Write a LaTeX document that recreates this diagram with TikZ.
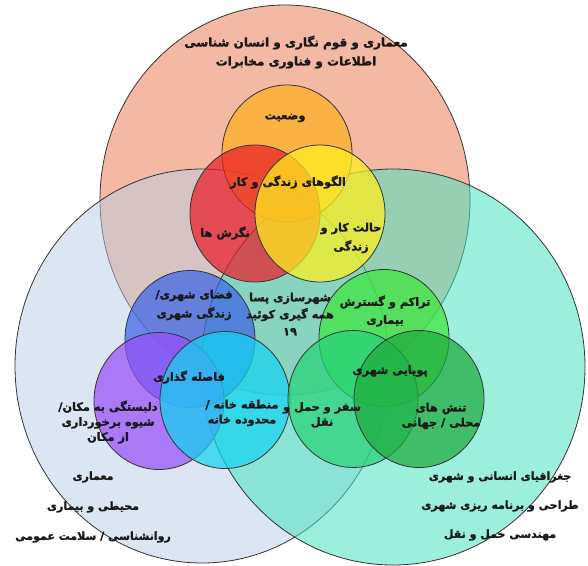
\documentclass[tikz,border=0pt]{standalone}
\usepackage{fontspec}
\usepackage{xcolor}
\usepackage{tikz}
\usetikzlibrary{positioning}
\TeXXeTstate=1
\newfontfamily\farsi[Script=Arabic, FakeBold=1.5]{DejaVu Sans Bold}
\newcommand{\fa}[1]{\beginR #1\endR}

\definecolor{salmon}{RGB}{244,185,162}
\definecolor{sky}{RGB}{185,205,229}
\definecolor{aqua}{RGB}{73,226,191}
\definecolor{amber}{RGB}{255,176,32}
\definecolor{scarlet}{RGB}{235,30,40}
\definecolor{lemon}{RGB}{255,240,30}
\definecolor{royal}{RGB}{60,100,230}
\definecolor{violet}{RGB}{150,80,250}
\definecolor{cyan}{RGB}{20,210,240}
\definecolor{lime}{RGB}{60,230,60}
\definecolor{jade}{RGB}{40,210,120}
\definecolor{moss}{RGB}{30,170,60}

\begin{document}
\begin{tikzpicture}[x=1pt, y=-1pt, rim/.style={draw=black!80, line width=0.8pt}, ring/.style={rim, fill=#1, fill opacity=0.72}, tag/.style={font=\farsi\fontsize{11.3}{15}\selectfont, align=center, text=black!90, inner sep=0pt}]
\useasboundingbox (0,0) rectangle (588,565);

% three fields
\filldraw[rim, fill=salmon] (285,200) ellipse [x radius=185, y radius=195];
\filldraw[rim, fill=sky, fill opacity=0.5] (202,366) ellipse [x radius=187, y radius=197];
\filldraw[rim, fill=aqua, fill opacity=0.55] (393,367) ellipse [x radius=192, y radius=198];

% small circles
\foreach \c/\x/\y in {amber/287/153.5, scarlet/255/213.5, lemon/320/213.5, royal/190/339, violet/159/401, cyan/225/400, lime/384/338, jade/353/399, moss/419/399}
  \filldraw[ring=\c] (\x,\y) ellipse [x radius=65, y radius=68.5];

\node[tag, font=\farsi\fontsize{12}{19}\selectfont] (arch) at (296,52) {\fa{معماری و قوم نگاری و انسان شناسی}\\\fa{اطلاعات و فناوری مخابرات}};
\node[tag] (sit) at (285,118) {\fa{وضعیت}};
\node[tag] (pat) at (288,182) {\fa{الگوهای زندگی و کار}};
\node[tag] (att) at (225,233) {\fa{نگرش ها}};
\node[tag, font=\farsi\fontsize{11.3}{19}\selectfont] (mod) at (351,238) {\fa{حالت کار و}\\\fa{زندگی}};
\node[tag, font=\farsi\fontsize{11.3}{17}\selectfont] (cov) at (290,314) {\fa{شهرسازی پسا}\\\fa{همه گیری کوئید}\\۱۹};
\node[tag, font=\farsi\fontsize{11.3}{19}\selectfont] (pub) at (194,305) {\fa{فضای شهری/}\\\fa{زندگی شهری}};
\node[tag] (gap) at (189,377) {\fa{فاصله گذاری}};
\node[tag] (plc) at (108,422) {\fa{دلبستگی به مکان/}\\\fa{شیوه برخورداری}\\\fa{از مکان}};
\node[tag] (hom) at (242,413) {\fa{منطقه خانه /}\\\fa{محدوده خانه}};
\node[tag, font=\farsi\fontsize{11.3}{18}\selectfont] (dns) at (385,311) {\fa{تراکم و گسترش}\\\fa{بیماری}};
\node[tag] (dyn) at (390,371) {\fa{پویایی شهری}};
\node[tag] (trv) at (322,415) {\fa{سفر و حمل و}\\\fa{نقل}};
\node[tag] (ten) at (441,416) {\fa{تنش های}\\\fa{محلی / جهانی}};
\node[tag, font=\farsi\fontsize{11}{30}\selectfont] (env) at (93,507) {\fa{معماری}\\\fa{محیطی و بیماری}\\\fa{روانشناسی / سلامت عمومی}};
\node[tag, font=\farsi\fontsize{11}{29}\selectfont] (geo) at (500,506) {\fa{جغرافیای انسانی و شهری}\\\fa{طراحی و برنامه ریزی شهری}\\\fa{مهندسی حمل و نقل}};
\end{tikzpicture}
\end{document}
